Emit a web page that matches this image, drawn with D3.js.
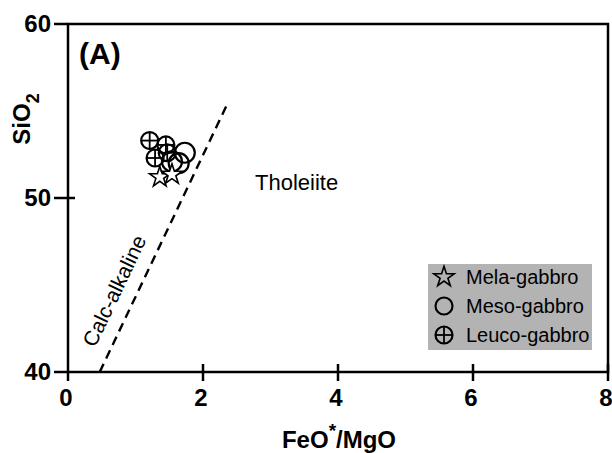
<!DOCTYPE html>
<meta charset="utf-8">
<style>
body { margin: 0; background: #fff; }
text { font-family: "Liberation Sans", Arial, sans-serif; }
.tick-label { font-size: 24px; font-weight: bold; }
</style>
<svg width="612" height="453"></svg>
<script src="https://cdnjs.cloudflare.com/ajax/libs/d3/7.8.5/d3.min.js"></script>
<script>
var xTicks = [0, 2, 4, 6, 8];
var yTicks = [40, 50, 60];

// FeO*/MgO, SiO2
var melaGabbro = [[1.36, 51.2], [1.54, 51.35]];
var mesoGabbro = [[1.73, 52.6], [1.64, 52.0], [1.54, 52.1]];
var leucoGabbro = [[1.21, 53.3], [1.45, 53.05], [1.29, 52.3], [1.47, 52.6]];
var divideLine = [[0.47, 40], [2.36, 55.4]];
var legendNames = ["Mela-gabbro", "Meso-gabbro", "Leuco-gabbro"];

var svg = d3.select("svg");
var x = d3.scaleLinear().domain([0, 8]).range([68, 608]);
var y = d3.scaleLinear().domain([40, 60]).range([372, 24]);

// frame
svg.append("rect")
	.attr("x", x(0)).attr("y", y(60))
	.attr("width", x(8) - x(0)).attr("height", y(40) - y(60))
	.attr("fill", "none").attr("stroke", "#000").attr("stroke-width", 2.5);

// x ticks (crossing)
svg.selectAll(".xt").data(xTicks).enter().append("line")
	.attr("x1", function(d) { return x(d); }).attr("x2", function(d) { return x(d); })
	.attr("y1", function(d) { return d == 0 ? y(40) : y(40) - 8; })
	.attr("y2", y(40) + 9)
	.attr("stroke", "#000").attr("stroke-width", 2.5);
svg.selectAll(".xl").data(xTicks).enter().append("text")
	.attr("class", "tick-label")
	.attr("x", function(d) { return x(d) - 2; })
	.attr("y", 406)
	.attr("text-anchor", "middle")
	.text(function(d) { return d; });

// y ticks
svg.selectAll(".yt").data(yTicks).enter().append("line")
	.attr("y1", function(d) { return y(d); }).attr("y2", function(d) { return y(d); })
	.attr("x1", x(0) - 14)
	.attr("x2", function(d) { return d == 50 ? x(0) + 7 : x(0); })
	.attr("stroke", "#000").attr("stroke-width", 2.5);
svg.selectAll(".yl").data(yTicks).enter().append("text")
	.attr("class", "tick-label")
	.attr("x", 51)
	.attr("y", function(d) { return y(d) + 8; })
	.attr("text-anchor", "end")
	.text(function(d) { return d; });

// axis titles
var xt = svg.append("text").attr("class", "tick-label")
	.attr("x", 339).attr("y", 448).attr("text-anchor", "middle")
	.attr("font-size", 28);
xt.append("tspan").text("FeO");
xt.append("tspan").attr("dy", -11).attr("font-size", 19).text("*");
xt.append("tspan").attr("dy", 11).text("/MgO");

var yt = svg.append("text").attr("class", "tick-label")
	.attr("transform", "translate(30,119) rotate(-90)")
	.attr("text-anchor", "middle")
	.attr("font-size", 28);
yt.append("tspan").text("SiO");
yt.append("tspan").attr("dy", 9).attr("font-size", 18).text("2");

svg.append("text").attr("x", 79).attr("y", 64)
	.attr("font-size", 30).attr("font-weight", "bold").text("(A)");

// dashed divide
svg.append("path")
	.datum(divideLine)
	.attr("d", d3.line().x(function(d) { return x(d[0]); }).y(function(d) { return y(d[1]); }))
	.attr("stroke", "#000").attr("stroke-width", 2.4)
	.attr("stroke-dasharray", "9,6").attr("fill", "none");

svg.append("text").attr("x", 255).attr("y", 190)
	.attr("font-size", 22).text("Tholeiite");
svg.append("text")
	.attr("transform", "translate(121,294) rotate(-64.5)")
	.attr("text-anchor", "middle")
	.attr("font-size", 21).text("Calc-alkaline");

// symbols
var star = d3.symbol().type(d3.symbolStar).size(130);
function drawCircle(g, r, cross) {
	g.append("circle").attr("r", r).attr("fill", "none").attr("stroke", "#000").attr("stroke-width", 2.2);
	if (cross) {
		g.append("line").attr("x1", -r).attr("x2", r).attr("stroke", "#000").attr("stroke-width", 1.8);
		g.append("line").attr("y1", -r).attr("y2", r).attr("stroke", "#000").attr("stroke-width", 1.8);
	}
}

svg.selectAll(".meso").data(mesoGabbro).enter().append("g")
	.attr("transform", function(d) { return "translate(" + x(d[0]) + "," + y(d[1]) + ")"; })
	.each(function() { drawCircle(d3.select(this), 10, false); });
svg.selectAll(".leuco").data(leucoGabbro).enter().append("g")
	.attr("transform", function(d) { return "translate(" + x(d[0]) + "," + y(d[1]) + ")"; })
	.each(function() { drawCircle(d3.select(this), 8.5, true); });
svg.selectAll(".mela").data(melaGabbro).enter().append("path")
	.attr("transform", function(d) { return "translate(" + x(d[0]) + "," + y(d[1]) + ")"; })
	.attr("d", star).attr("fill", "#fff").attr("stroke", "#000").attr("stroke-width", 1.6);

// legend
var lg = svg.append("g");
lg.append("rect").attr("x", 428).attr("y", 264).attr("width", 164).attr("height", 86).attr("fill", "#b3b3b3");
var items = lg.selectAll(".li").data(legendNames).enter().append("g")
	.attr("transform", function(d, i) { return "translate(444," + (277 + i * 29) + ")"; });
items.append("text").attr("x", 22).attr("y", 7).attr("font-size", 20).text(function(d) { return d; });
items.each(function(d, i) {
	var g = d3.select(this);
	if (i == 0) g.append("path").attr("d", star)
		.attr("fill", "none").attr("stroke", "#000").attr("stroke-width", 1.6);
	else drawCircle(g, 8.5, i == 2);
});
</script>
